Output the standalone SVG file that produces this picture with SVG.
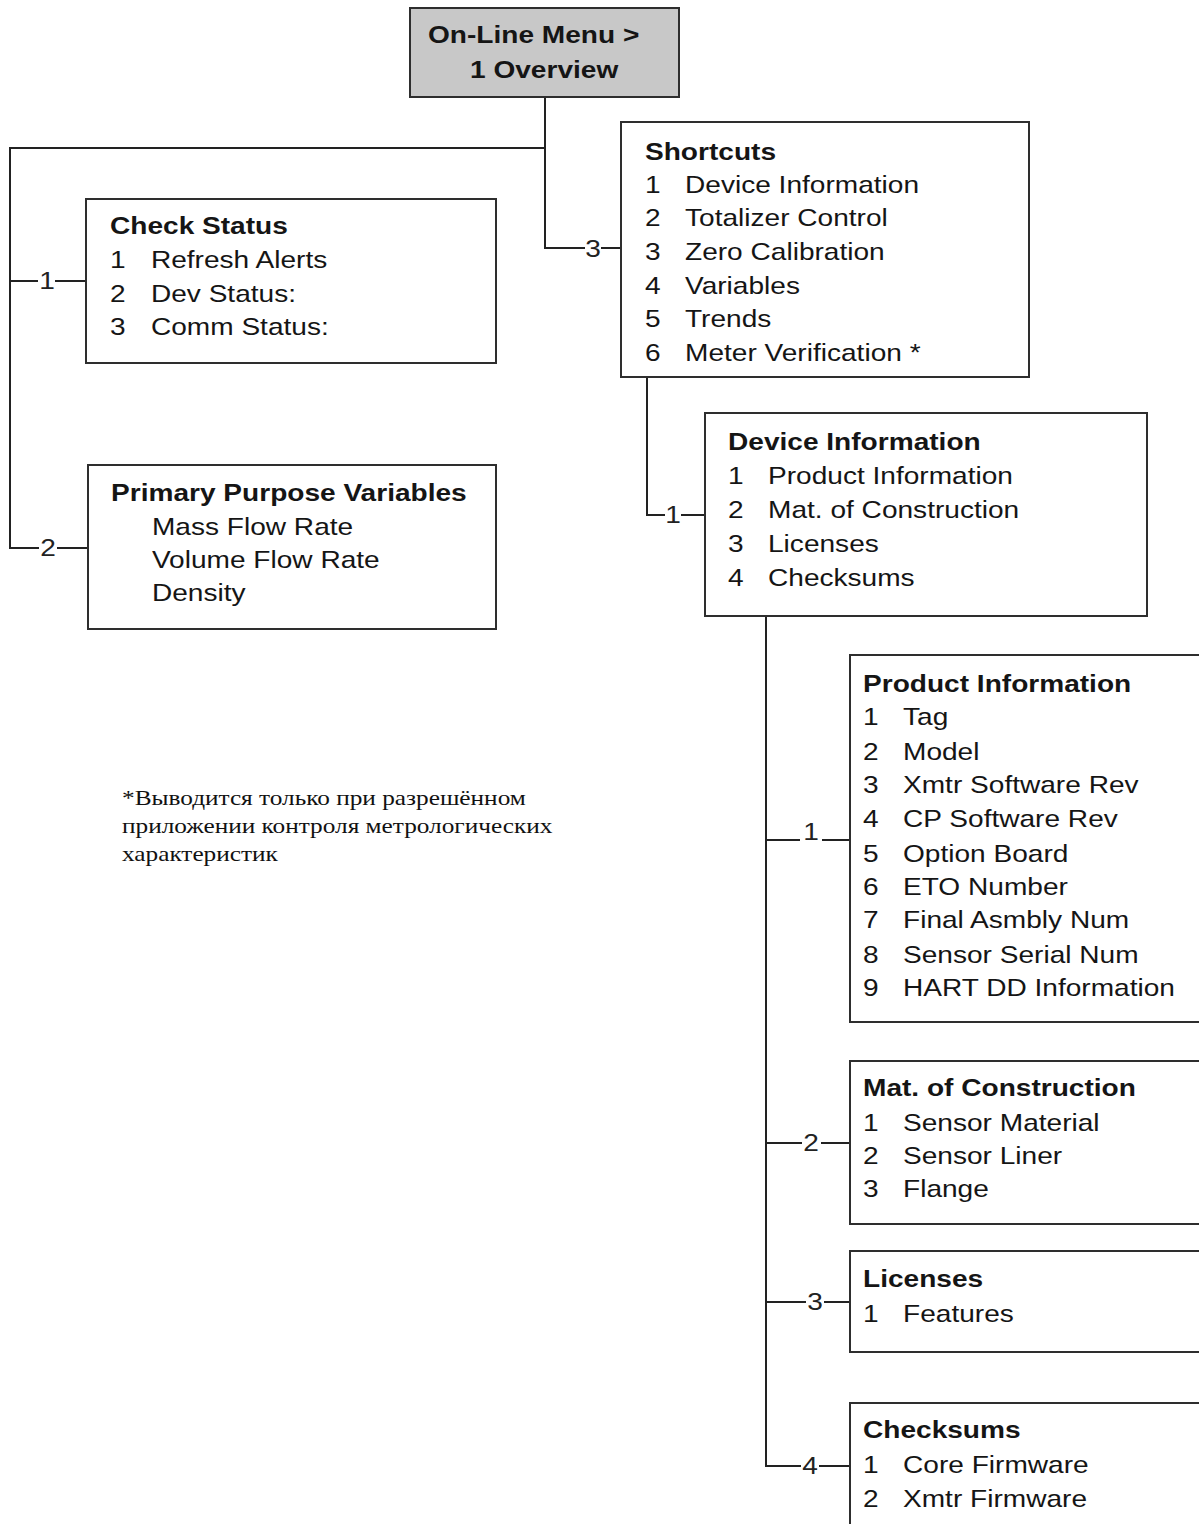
<svg xmlns="http://www.w3.org/2000/svg" width="1199" height="1524" viewBox="0 0 1199 1524">
  <style>
    .box{fill:#ffffff;stroke:#2e2e2e;stroke-width:2}
    .root{fill:#c8c8c8}
    .t{font-family:"Liberation Sans",Arial,Helvetica,sans-serif;font-size:24px;fill:#151515}
    .b{font-weight:bold}
    .wire{fill:none;stroke:#222222;stroke-width:2}
    .lbl{font-family:"Liberation Sans",Arial,sans-serif;font-size:24px;fill:#222222;text-anchor:middle}
    .note{font-family:"Liberation Serif","Times New Roman",serif;font-size:22px;fill:#111111}
  </style>

  <!-- tree wiring -->
  <g id="connectors">
    <path class="wire" d="M545,97 V248 H585 M601,248 H621"/>
    <path class="wire" d="M545,148 H10 V548 H39 M57,548 H88"/>
    <path class="wire" d="M10,281 H38 M55,281 H86"/>
    <path class="wire" d="M647,377 V515 H665 M681,515 H705"/>
    <path class="wire" d="M766,616 V1466 H801 M819,1466 H850"/>
    <path class="wire" d="M766,840 H800 M822,840 H850"/>
    <path class="wire" d="M766,1143 H802 M821,1143 H850"/>
    <path class="wire" d="M766,1302 H806 M824,1302 H850"/>
    <g>
      <text class="lbl" transform="translate(593,257) scale(1.17,1)">3</text>
      <text class="lbl" transform="translate(47,289) scale(1.17,1)">1</text>
      <text class="lbl" transform="translate(48,556) scale(1.17,1)">2</text>
      <text class="lbl" transform="translate(673,523) scale(1.17,1)">1</text>
      <text class="lbl" transform="translate(811,840) scale(1.17,1)">1</text>
      <text class="lbl" transform="translate(811,1151) scale(1.17,1)">2</text>
      <text class="lbl" transform="translate(815,1310) scale(1.17,1)">3</text>
      <text class="lbl" transform="translate(810,1474) scale(1.17,1)">4</text>
    </g>
  </g>

  <g id="online-menu">
    <rect class="box root" x="410" y="8" width="269" height="89"/>
    <text class="t b" transform="translate(428,43) scale(1.17,1)">On-Line Menu &gt;</text>
    <text class="t b" transform="translate(470,78) scale(1.17,1)">1 Overview</text>
  </g>

  <g id="check-status">
    <rect class="box" x="86" y="199" width="410" height="164"/>
    <g transform="translate(110,0) scale(1.17,1)">
      <text class="t b" y="234">Check Status</text>
      <text class="t" y="268">1</text><text class="t" x="35" y="268">Refresh Alerts</text>
      <text class="t" y="302">2</text><text class="t" x="35" y="302">Dev Status:</text>
      <text class="t" y="335">3</text><text class="t" x="35" y="335">Comm Status:</text>
    </g>
  </g>

  <g id="primary-purpose-variables">
    <rect class="box" x="88" y="465" width="408" height="164"/>
    <g transform="translate(111,0) scale(1.17,1)">
      <text class="t b" y="501">Primary Purpose Variables</text>
      <text class="t" x="35" y="535">Mass Flow Rate</text>
      <text class="t" x="35" y="568">Volume Flow Rate</text>
      <text class="t" x="35" y="601">Density</text>
    </g>
  </g>

  <g id="shortcuts">
    <rect class="box" x="621" y="122" width="408" height="255"/>
    <g transform="translate(645,0) scale(1.17,1)">
      <text class="t b" y="160">Shortcuts</text>
      <text class="t" y="193">1</text><text class="t" x="34.2" y="193">Device Information</text>
      <text class="t" y="226">2</text><text class="t" x="34.2" y="226">Totalizer Control</text>
      <text class="t" y="260">3</text><text class="t" x="34.2" y="260">Zero Calibration</text>
      <text class="t" y="294">4</text><text class="t" x="34.2" y="294">Variables</text>
      <text class="t" y="327">5</text><text class="t" x="34.2" y="327">Trends</text>
      <text class="t" y="361">6</text><text class="t" x="34.2" y="361">Meter Verification *</text>
    </g>
  </g>

  <g id="device-information">
    <rect class="box" x="705" y="413" width="442" height="203"/>
    <g transform="translate(728,0) scale(1.17,1)">
      <text class="t b" y="450">Device Information</text>
      <text class="t" y="484">1</text><text class="t" x="34.2" y="484">Product Information</text>
      <text class="t" y="518">2</text><text class="t" x="34.2" y="518">Mat. of Construction</text>
      <text class="t" y="552">3</text><text class="t" x="34.2" y="552">Licenses</text>
      <text class="t" y="586">4</text><text class="t" x="34.2" y="586">Checksums</text>
    </g>
  </g>

  <g id="product-information">
    <rect class="box" x="850" y="655" width="370" height="367"/>
    <g transform="translate(863,0) scale(1.17,1)">
      <text class="t b" y="692">Product Information</text>
      <text class="t" y="725">1</text><text class="t" x="34.2" y="725">Tag</text>
      <text class="t" y="760">2</text><text class="t" x="34.2" y="760">Model</text>
      <text class="t" y="793">3</text><text class="t" x="34.2" y="793">Xmtr Software Rev</text>
      <text class="t" y="827">4</text><text class="t" x="34.2" y="827">CP Software Rev</text>
      <text class="t" y="862">5</text><text class="t" x="34.2" y="862">Option Board</text>
      <text class="t" y="895">6</text><text class="t" x="34.2" y="895">ETO Number</text>
      <text class="t" y="928">7</text><text class="t" x="34.2" y="928">Final Asmbly Num</text>
      <text class="t" y="963">8</text><text class="t" x="34.2" y="963">Sensor Serial Num</text>
      <text class="t" y="996">9</text><text class="t" x="34.2" y="996">HART DD Information</text>
    </g>
  </g>

  <g id="mat-of-construction">
    <rect class="box" x="850" y="1061" width="370" height="163"/>
    <g transform="translate(863,0) scale(1.17,1)">
      <text class="t b" y="1096">Mat. of Construction</text>
      <text class="t" y="1131">1</text><text class="t" x="34.2" y="1131">Sensor Material</text>
      <text class="t" y="1164">2</text><text class="t" x="34.2" y="1164">Sensor Liner</text>
      <text class="t" y="1197">3</text><text class="t" x="34.2" y="1197">Flange</text>
    </g>
  </g>

  <g id="licenses">
    <rect class="box" x="850" y="1251" width="370" height="101"/>
    <g transform="translate(863,0) scale(1.17,1)">
      <text class="t b" y="1287">Licenses</text>
      <text class="t" y="1322">1</text><text class="t" x="34.2" y="1322">Features</text>
    </g>
  </g>

  <g id="checksums">
    <rect class="box" x="850" y="1403" width="370" height="140"/>
    <g transform="translate(863,0) scale(1.17,1)">
      <text class="t b" y="1438">Checksums</text>
      <text class="t" y="1473">1</text><text class="t" x="34.2" y="1473">Core Firmware</text>
      <text class="t" y="1507">2</text><text class="t" x="34.2" y="1507">Xmtr Firmware</text>
    </g>
  </g>

  <!-- footnote for the starred item -->
  <g id="footnote" transform="translate(122,0) scale(1.15,1)">
    <text class="note" x="0" y="805">*Выводится только при разрешённом</text>
    <text class="note" x="0" y="833">приложении контроля метрологических</text>
    <text class="note" x="0" y="861">характеристик</text>
  </g>
</svg>
